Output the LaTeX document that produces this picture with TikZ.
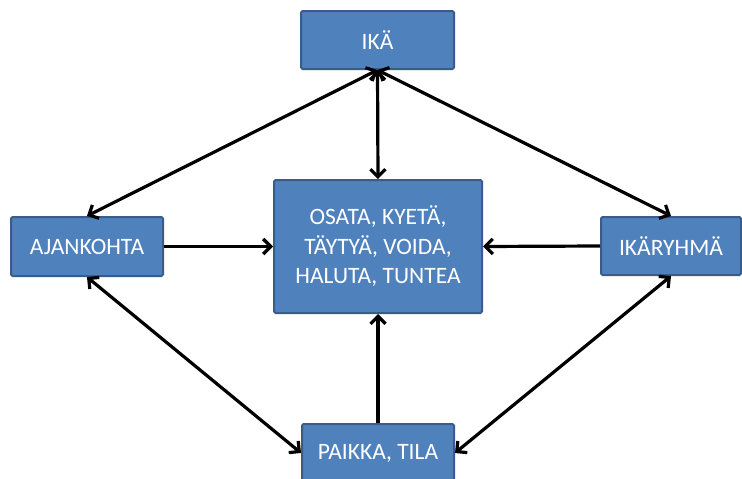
\documentclass[tikz,border=0pt]{standalone}
\usepackage{fontspec}
\setmainfont{Carlito}
\usetikzlibrary{arrows.meta}
\definecolor{boxfill}{HTML}{4F81BD}
\definecolor{boxline}{HTML}{385D8A}
\begin{document}
\begin{tikzpicture}[x=1pt,y=-1pt,
  bluebox/.style={draw=boxline, fill=boxfill, line width=2pt, rounded corners=1.5pt,
    text=white, font=\fontsize{23.5}{29.5}\selectfont, align=center, inner sep=0pt},
  conn/.style={line width=3.2pt, draw=black},
  tip/.style={-{Straight Barb[length=7.5pt,width=15pt,line width=3.2pt]}},
  tips/.style={{Straight Barb[length=7.5pt,width=15pt,line width=3.2pt]}-{Straight Barb[length=7.5pt,width=15pt,line width=3.2pt]}}
]
\clip (0,0) rectangle (742,479);
\fill[white] (0,0) rectangle (742,479);
\node[bluebox, minimum width=153pt, minimum height=58pt] (ika) at (377.5,40) {IKÄ};
\node[bluebox, minimum width=208pt, minimum height=133pt] (mid) at (378,246.5) {OSATA, KYETÄ,\\TÄYTYÄ, VOIDA,\\HALUTA, TUNTEA};
\node[bluebox, minimum width=152pt, minimum height=59pt] (ajan) at (87,246.5) {AJANKOHTA};
\node[bluebox, minimum width=140pt, minimum height=58pt] (ikar) at (671,246) {IKÄRYHMÄ};
\node[bluebox, minimum width=152pt, minimum height=58pt] (paik) at (378,453) {PAIKKA, TILA};
\draw[conn, tips] (ika.south) -- (mid.north);
\draw[conn, tips] (ika.south) -- (ajan.north);
\draw[conn, tips] (ika.south) -- (ikar.north);
\draw[conn, tip] (ajan.east) -- (mid.west);
\draw[conn, tip] (ikar.west) -- (mid.east);
\draw[conn, tip] (paik.north) -- (mid.south);
\draw[conn, tips] (ajan.south) -- (paik.west);
\draw[conn, tips] (ikar.south) -- (paik.east);
\end{tikzpicture}
\end{document}
